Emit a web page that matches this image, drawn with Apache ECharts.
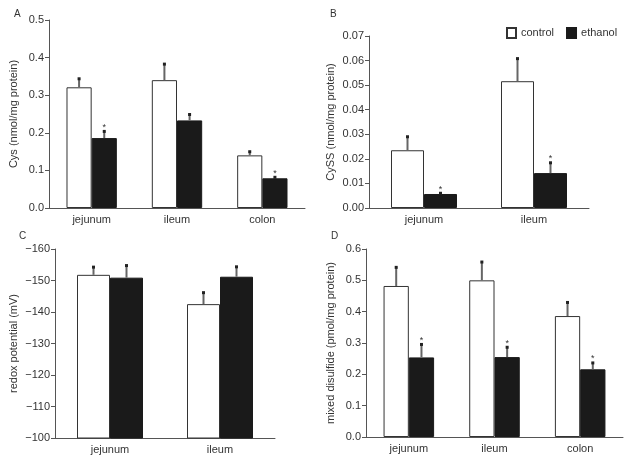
<!DOCTYPE html>
<html><head><meta charset="utf-8">
<script src="https://cdn.jsdelivr.net/npm/echarts@6/dist/echarts.min.js"></script>
<style>html,body{margin:0;padding:0;background:#fff}#c{width:630px;height:459px}</style>
</head><body><div id="c"></div>
<script>
// Categories
const cats3 = ['jejunum', 'ileum', 'colon'];
const cats2 = ['jejunum', 'ileum'];
// Panel A: Cys (nmol/mg protein)
const aControl = [0.321, 0.340, 0.140];
const aControlErr = [0.345, 0.384, 0.151];
const aEthanol = [0.186, 0.233, 0.079];
const aEthanolErr = [0.205, 0.250, 0.083];
const aStar = [1, 0, 1];
// Panel B: CySS (nmol/mg protein)
const bControl = [0.0235, 0.0516];
const bControlErr = [0.0292, 0.0610];
const bEthanol = [0.0057, 0.0142];
const bEthanolErr = [0.0062, 0.0186];
const bStar = [1, 1];
// Panel C: redox potential (mV)
const cControl = [-151.8, -142.5];
const cControlErr = [-154.4, -146.3];
const cEthanol = [-150.9, -151.2];
const cEthanolErr = [-154.9, -154.5];
const cStar = [0, 0];
// Panel D: mixed disulfide (pmol/mg protein)
const dControl = [0.482, 0.500, 0.386];
const dControlErr = [0.543, 0.560, 0.431];
const dEthanol = [0.254, 0.255, 0.216];
const dEthanolErr = [0.297, 0.288, 0.238];
const dStar = [1, 1, 1];

const TXT = '#333';
const AX = '#555';
const FONT = 'Liberation Sans, Arial, sans-serif';

function errRender(side, gapFrac) {
  return function (params, api) {
    const i = api.value(0);
    const base = api.coord([i, api.value(1)]);
    const top = api.coord([i, api.value(2)]);
    const band = api.size([1, 0])[0];
    const bw = band * (1 - gapFrac) / 2;
    const x = base[0] + side * bw / 2;
    const children = [
      { type: 'line', shape: { x1: x, y1: base[1], x2: x, y2: top[1] }, style: { stroke: '#666', lineWidth: 2 } },
      { type: 'rect', shape: { x: x - 1.5, y: top[1] - 1, width: 3, height: 3 }, style: { fill: '#222' } }
    ];
    if (api.value(3)) {
      children.push({ type: 'text', style: { text: '*', x: x, y: top[1] + 1, align: 'center', verticalAlign: 'bottom', fontSize: 9, fill: '#333', fontFamily: FONT } });
    }
    return { type: 'group', children: children };
  };
}

function errData(vals, errs, stars) {
  return vals.map((v, i) => [i, v, errs[i], stars ? stars[i] : 0]);
}

const grids = [
  { left: 49, top: 20, width: 256, height: 188 },
  { left: 369, top: 36, width: 220, height: 172 },
  { left: 55, top: 249, width: 220, height: 189 },
  { left: 366, top: 249, width: 257, height: 188 }
];
const gaps = [0.41, 0.40, 0.40, 0.41];

function xAx(idx, cats) {
  return {
    type: 'category', gridIndex: idx, data: cats,
    axisLine: { lineStyle: { color: AX, width: 1 } },
    axisTick: { show: false },
    axisLabel: { color: TXT, fontSize: 11, fontFamily: FONT, margin: 6 }
  };
}
function yAx(idx, name, min, max, interval, fmt, inverse, nameGap) {
  return {
    type: 'value', gridIndex: idx, min: min, max: max, interval: interval, inverse: !!inverse,
    name: name, nameLocation: 'middle', nameGap: nameGap, nameRotate: 90,
    nameTextStyle: { color: TXT, fontSize: 11, fontFamily: FONT },
    axisLine: { show: true, lineStyle: { color: AX, width: 1 } },
    axisTick: { show: true, length: 4, lineStyle: { color: AX } },
    splitLine: { show: false },
    axisLabel: { color: TXT, fontSize: 11, fontFamily: FONT, margin: 5, formatter: fmt }
  };
}

const ctrlStyle = { color: '#fff', borderColor: '#333', borderWidth: 1 };
const ethStyle = { color: '#1a1a1a', borderColor: '#1a1a1a', borderWidth: 1 };

function panelSeries(idx, ctrl, ctrlErr, eth, ethErr, stars) {
  const g = gaps[idx];
  return [
    { name: 'control', type: 'bar', xAxisIndex: idx, yAxisIndex: idx, data: ctrl, itemStyle: ctrlStyle,
      barGap: '0%', barCategoryGap: (g * 100) + '%', clip: true, z: 2 },
    { name: 'ethanol', type: 'bar', xAxisIndex: idx, yAxisIndex: idx, data: eth, itemStyle: ethStyle,
      barGap: '0%', barCategoryGap: (g * 100) + '%', clip: true, z: 2 },
    { type: 'custom', xAxisIndex: idx, yAxisIndex: idx, renderItem: errRender(-1, g),
      data: errData(ctrl, ctrlErr, null), encode: { x: 0, y: [1, 2] }, z: 3, silent: true },
    { type: 'custom', xAxisIndex: idx, yAxisIndex: idx, renderItem: errRender(1, g),
      data: errData(eth, ethErr, stars), encode: { x: 0, y: [1, 2] }, z: 3, silent: true }
  ];
}

const f1 = v => v.toFixed(1);
const f2 = v => v.toFixed(2);
const fNeg = v => String(v).replace('-', '\u2212');

const chart = echarts.init(document.getElementById('c'), null, { renderer: 'canvas' });
chart.setOption({
  animation: false,
  backgroundColor: '#fff',
  textStyle: { fontFamily: FONT },
  title: [
    { text: 'A', left: 9, top: 4, textStyle: { fontSize: 10, fontWeight: 'normal', color: TXT } },
    { text: 'B', left: 325, top: 4, textStyle: { fontSize: 10, fontWeight: 'normal', color: TXT } },
    { text: 'C', left: 14, top: 226, textStyle: { fontSize: 10, fontWeight: 'normal', color: TXT } },
    { text: 'D', left: 326, top: 226, textStyle: { fontSize: 10, fontWeight: 'normal', color: TXT } }
  ],
  legend: {
    data: ['control', 'ethanol'], left: 501, top: 22, icon: 'rect', itemWidth: 9, itemHeight: 10,
    itemGap: 12, textStyle: { color: TXT, fontSize: 11, fontFamily: FONT }, selectedMode: false
  },
  grid: grids,
  xAxis: [xAx(0, cats3), xAx(1, cats2), xAx(2, cats2), xAx(3, cats3)],
  yAxis: [
    yAx(0, 'Cys (nmol/mg protein)', 0, 0.5, 0.1, f1, false, 30),
    yAx(1, 'CySS (nmol/mg protein)', 0, 0.07, 0.01, f2, false, 33),
    yAx(2, 'redox potential (mV)', -160, -100, 10, fNeg, true, 36),
    yAx(3, 'mixed disulfide (pmol/mg protein)', 0, 0.6, 0.1, f1, false, 30)
  ],
  series: [].concat(
    panelSeries(0, aControl, aControlErr, aEthanol, aEthanolErr, aStar),
    panelSeries(1, bControl, bControlErr, bEthanol, bEthanolErr, bStar),
    panelSeries(2, cControl, cControlErr, cEthanol, cEthanolErr, cStar),
    panelSeries(3, dControl, dControlErr, dEthanol, dEthanolErr, dStar)
  )
});
</script>
</body></html>
